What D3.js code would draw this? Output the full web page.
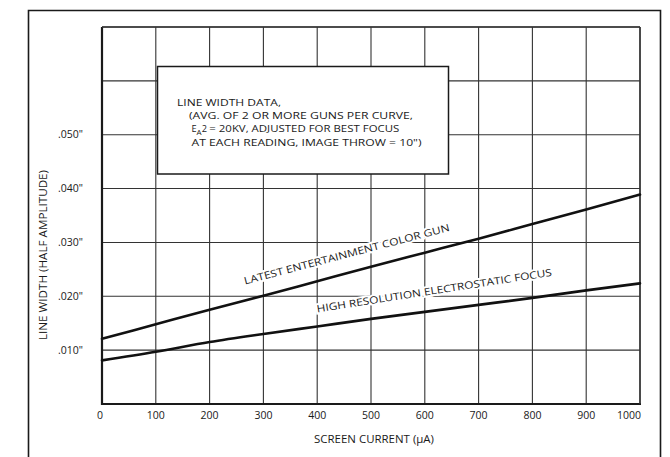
<!DOCTYPE html>
<html><head><meta charset="utf-8">
<script src="https://cdn.jsdelivr.net/npm/d3@7"></script>
<style>
html,body{margin:0;padding:0;background:#fff;}
svg{display:block;}
text{font-family:"Open Sans","DejaVu Sans",sans-serif;fill:#1a1a1a;}
</style></head>
<body>
<svg id="chart" width="670" height="457"></svg>
<script>
// ---- data ----
const currents = [0, 100, 200, 300, 400, 500, 600, 700, 800, 900, 1000];           // µA
const colorGun = [0.0121, 0.0148, 0.0175, 0.0201, 0.0228, 0.0255, 0.0281, 0.0307, 0.0334, 0.0361, 0.0389];
const electrostatic = [0.0081, 0.0097, 0.0115, 0.0130, 0.0144, 0.0158, 0.0171, 0.0184, 0.0197, 0.0211, 0.0224];
const xTicks = [0, 100, 200, 300, 400, 500, 600, 700, 800, 900, 1000];
const yGrid = [0, 0.01, 0.02, 0.03, 0.04, 0.05, 0.06, 0.07];
const yTickLabels = ['.010"', '.020"', '.030"', '.040"', '.050"'];
const yTickValues = [0.01, 0.02, 0.03, 0.04, 0.05];
const seriesNames = ["LATEST ENTERTAINMENT COLOR GUN", "HIGH RESOLUTION ELECTROSTATIC FOCUS"];
const noteLines = ["LINE WIDTH DATA,", "(AVG. OF 2 OR MORE GUNS PER CURVE,", "= 20KV, ADJUSTED FOR BEST FOCUS", "AT EACH READING, IMAGE THROW = 10\")"];
const xTitle = "SCREEN CURRENT (\u00B5A)";
const yTitle = "LINE WIDTH (HALF AMPLITUDE)";

// ---- layout ----
const svg = d3.select("#chart");
const x = d3.scaleLinear().domain([0, 1000]).range([102, 640]);
const y = d3.scaleLinear().domain([0, 0.07]).range([404, 27]);
const ink = "#1a1a1a";

// outer frame (bottom cut off)
svg.append("path").attr("d", "M28.5,457 V10.5 H660.5 V457")
  .attr("fill", "none").attr("stroke", ink).attr("stroke-width", 1.6);

// grid
const g = svg.append("g");
g.selectAll(".vg").data(xTicks).join("line")
  .attr("x1", d => x(d)).attr("x2", d => x(d)).attr("y1", y(0.07)).attr("y2", y(0))
  .attr("stroke", "#333").attr("stroke-width", 1.1);
g.selectAll(".hg").data(yGrid).join("line")
  .attr("x1", x(0)).attr("x2", x(1000)).attr("y1", d => y(d)).attr("y2", d => y(d))
  .attr("stroke", "#333").attr("stroke-width", 1.1);
// heavier axes
g.append("line").attr("x1", x(0)).attr("x2", x(0)).attr("y1", y(0.07)).attr("y2", y(0) + 1)
  .attr("stroke", ink).attr("stroke-width", 2.2);
g.append("line").attr("x1", x(0) - 1).attr("x2", x(1000) + 1).attr("y1", y(0)).attr("y2", y(0))
  .attr("stroke", ink).attr("stroke-width", 2.2);
g.append("line").attr("x1", x(1000)).attr("x2", x(1000)).attr("y1", y(0.07)).attr("y2", y(0))
  .attr("stroke", "#333").attr("stroke-width", 1.5);
g.append("line").attr("x1", x(0)).attr("x2", x(1000)).attr("y1", y(0.07)).attr("y2", y(0.07))
  .attr("stroke", "#333").attr("stroke-width", 1.5);

// x tick labels
svg.selectAll(".xl").data(xTicks).join("text")
  .attr("x", (d, i) => (i === 0 || i === xTicks.length - 1) ? x(d) + 1 : x(d))
  .attr("y", 419)
  .attr("text-anchor", (d, i) => (i === 0 || i === xTicks.length - 1) ? "end" : "middle")
  .attr("font-size", 10.5).text(d => d);

// y tick labels
svg.selectAll(".yl").data(yTickValues).join("text")
  .attr("x", 83).attr("y", d => y(d) + 3.5)
  .attr("text-anchor", "end").attr("font-size", 10.5)
  .text((d, i) => yTickLabels[i]);

// axis titles
svg.append("text").attr("x", 374).attr("y", 443).attr("text-anchor", "middle")
  .attr("font-size", 10.5).attr("textLength", 120).attr("lengthAdjust", "spacingAndGlyphs").text(xTitle);
svg.append("text").attr("transform", "translate(46.5,255) rotate(-90)").attr("text-anchor", "middle")
  .attr("font-size", 10.5).attr("textLength", 170).attr("lengthAdjust", "spacingAndGlyphs").text(yTitle);

// curves
const line = d3.line().x((d, i) => x(currents[i])).y(d => y(d)).curve(d3.curveMonotoneX);
[colorGun, electrostatic].forEach(s => {
  svg.append("path").attr("d", line(s)).attr("fill", "none")
    .attr("stroke", "#111").attr("stroke-width", 2.6).attr("stroke-linecap", "round");
});

// curve labels
function valAt(series, c) {
  return d3.scaleLinear().domain(currents).range(series)(c);
}
const lab1 = { c: 266, off: 16, ang: -14.7, len: 212 };
const lab2 = { c: 400, off: 14, ang: -8.9, len: 238 };
[[colorGun, lab1, seriesNames[0]], [electrostatic, lab2, seriesNames[1]]].forEach(([s, L, name]) => {
  const px = x(L.c), py = y(valAt(s, L.c)) - L.off;
  svg.append("text").attr("transform", `translate(${px},${py}) rotate(${L.ang})`)
    .attr("font-size", 10).attr("textLength", L.len).attr("lengthAdjust", "spacingAndGlyphs")
    .attr("stroke", "#fff").attr("stroke-width", 4).attr("paint-order", "stroke")
    .text(name);
});

// note box
svg.append("rect").attr("x", 157.5).attr("y", 66.5).attr("width", 291).attr("height", 107.5)
  .attr("fill", "#fff").attr("stroke", ink).attr("stroke-width", 1.5);
const nt = svg.append("g").attr("font-size", 9.2);
nt.append("text").attr("x", 177).attr("y", 106).attr("textLength", 104).attr("lengthAdjust", "spacingAndGlyphs").text(noteLines[0]);
nt.append("text").attr("x", 189).attr("y", 119).attr("textLength", 224).attr("lengthAdjust", "spacingAndGlyphs").text(noteLines[1]);
const t3 = nt.append("text").attr("x", 191.5).attr("y", 132);
t3.append("tspan").text("E");
t3.append("tspan").attr("dy", 2.5).attr("font-size", 8).text("A");
t3.append("tspan").attr("dy", -2.5).text("2 ");
t3.append("tspan").attr("textLength", 190).attr("lengthAdjust", "spacingAndGlyphs").text(noteLines[2]);
nt.append("text").attr("x", 191.5).attr("y", 146).attr("textLength", 230).attr("lengthAdjust", "spacingAndGlyphs").text(noteLines[3]);
</script>
</body></html>
